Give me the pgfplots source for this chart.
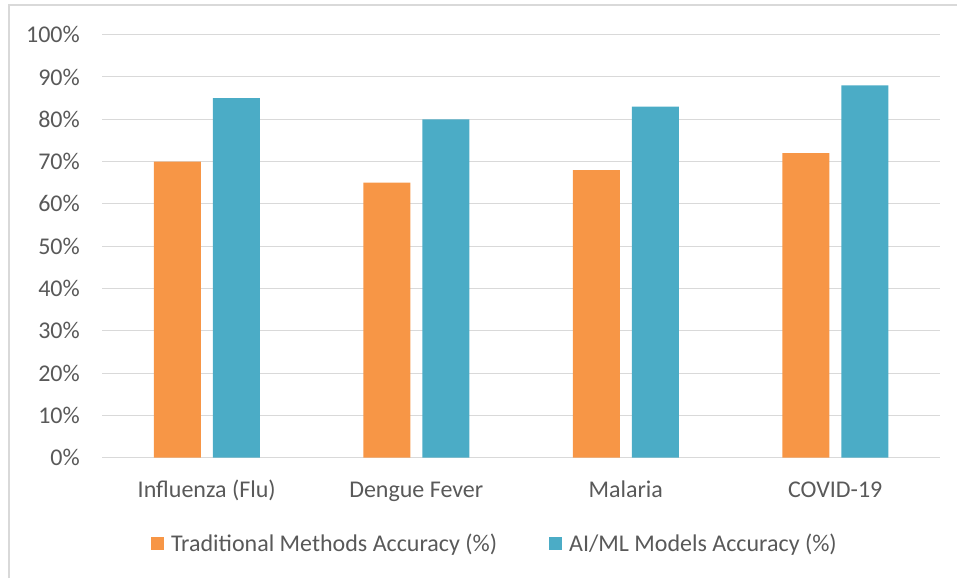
\documentclass[border=0pt]{standalone}
\usepackage{pgfplots}
\pgfplotsset{compat=1.18}
\usepackage{fontspec}
\setmainfont{Carlito}
\definecolor{orng}{HTML}{F79646}
\definecolor{blu}{HTML}{4BACC6}
\definecolor{txt}{HTML}{595959}
\definecolor{grd}{HTML}{D9D9D9}
\newcommand{\cf}{\fontsize{24}{28}\selectfont}
\begin{document}
\begin{tikzpicture}[x=1pt,y=1pt]
\path[use as bounding box] (0,0) rectangle (957,578);
\draw[grd,line width=1.5pt] (9,0) -- (9,573) -- (957,573);
\begin{axis}[
  at={(102pt,120.3pt)}, anchor=south west,
  scale only axis, width=838pt, height=423pt,
  xmin=-0.5, xmax=3.5, ymin=0, ymax=100,
  ybar, bar width=47pt,
  xtick={0,1,2,3},
  xticklabels={Influenza (Flu),Dengue Fever,Malaria,COVID-19},
  ytick={0,10,...,100},
  yticklabel={\pgfmathprintnumber{\tick}\%},
  /pgf/number format/assume math mode=true,
  major tick length=0pt,
  axis x line*=bottom, axis y line*=left,
  x axis line style={grd, line width=1pt, -},
  y axis line style={draw=none},
  ymajorgrids, major grid style={grd, line width=1pt},
  yticklabel style={font=\cf, text=txt, anchor=east, inner sep=0pt, xshift=-22pt},
  xticklabel style={font=\cf, text=txt, anchor=base, inner sep=0pt, yshift=-39.6pt},
  legend columns=2,
  legend style={at={(axis description cs:0.0585,-0.2017)}, anchor=west,
    draw=none, fill=none, inner sep=0pt, outer sep=0pt, font=\cf, text=txt,
    nodes={inner sep=0pt},
    /tikz/every even column/.append style={column sep=52pt},
    /tikz/every odd column/.append style={column sep=7pt}},
  legend image code/.code={\fill[#1] (0pt,-6.5pt) rectangle (13pt,6.5pt);},
]
\addplot[fill=orng, draw=none, bar shift=-29.5pt] coordinates {(0,70) (1,65) (2,68) (3,72)};
\addlegendentry{Traditional Methods Accuracy (\%)}
\addplot[fill=blu, draw=none, bar shift=29.5pt] coordinates {(0,85) (1,80) (2,83) (3,88)};
\addlegendentry{AI/ML Models Accuracy (\%)}
\end{axis}
\end{tikzpicture}
\end{document}
